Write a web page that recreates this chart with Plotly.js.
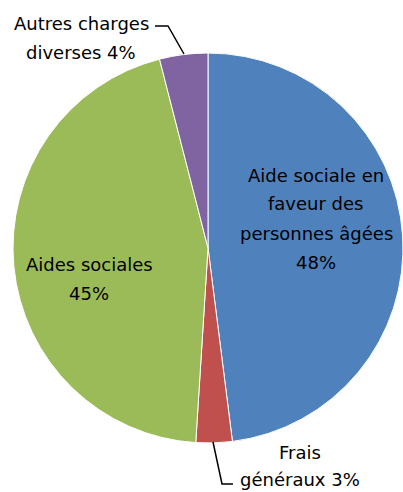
<!DOCTYPE html>
<html>
<head>
<meta charset="utf-8">
<script src="https://cdn.plot.ly/plotly-3.0.1.min.js"></script>
<style>
  html, body { margin: 0; padding: 0; background: #fff; }
  #chart { width: 403px; height: 492px; }
</style>
</head>
<body>
<div id="chart"></div>
<script>
// budget breakdown, clockwise from top
var categories = ['Aide sociale en faveur des personnes âgées', 'Frais généraux', 'Aides sociales', 'Autres charges diverses'];
var values = [48, 3, 45, 4];
var colors = ['#4F81BD', '#C0504D', '#9BBB59', '#8064A2'];

// label lines as shown on the chart
var labelLines = [
    ['Aide sociale en', 'faveur des', 'personnes âgées', '48%'],
    ['Frais', 'généraux 3%'],
    ['Aides sociales', '45%'],
    ['Autres charges', 'diverses 4%']
];
// where each label block sits (px, centre of first line) and line pitch
var labelPos = [
    {x: 316, y: 175, step: 29},
    {x: 300, y: 452, step: 27},
    {x: 89, y: 264, step: 29},
    {x: 81, y: 23, step: 29}
];

var W = 403, H = 492;
var cx = 208, cy = 248, r = 195;

var annotations = [];
labelLines.forEach(function (lines, i) {
    lines.forEach(function (txt, j) {
        annotations.push({
            xref: 'paper', yref: 'paper',
            x: labelPos[i].x / W,
            y: 1 - (labelPos[i].y + j * labelPos[i].step) / H,
            text: txt,
            showarrow: false,
            xanchor: 'center', yanchor: 'middle',
            font: {family: 'DejaVu Sans', size: 18, color: '#000'}
        });
    });
});

function px(x, y) { return (x / W) + ',' + (1 - y / H); }

var shapes = [
    {type: 'path', xref: 'paper', yref: 'paper',
     path: 'M ' + px(155, 26) + ' L ' + px(168, 26) + ' L ' + px(184, 54),
     line: {color: '#000', width: 1.5}},
    {type: 'path', xref: 'paper', yref: 'paper',
     path: 'M ' + px(213, 442) + ' L ' + px(222, 484) + ' L ' + px(233, 484),
     line: {color: '#000', width: 1.5}}
];

var trace = {
    type: 'pie',
    labels: categories,
    values: values,
    sort: false,
    direction: 'clockwise',
    rotation: 0,
    textinfo: 'none',
    hoverinfo: 'label+percent',
    marker: {colors: colors, line: {color: '#fff', width: 1}},
    domain: {
        x: [(cx - r) / W, (cx + r) / W],
        y: [1 - (cy + r) / H, 1 - (cy - r) / H]
    }
};

var layout = {
    width: W,
    height: H,
    margin: {l: 0, r: 0, t: 0, b: 0},
    showlegend: false,
    paper_bgcolor: '#fff',
    annotations: annotations,
    shapes: shapes
};

Plotly.newPlot('chart', [trace], layout, {displayModeBar: false, staticPlot: true});
</script>
</body>
</html>
